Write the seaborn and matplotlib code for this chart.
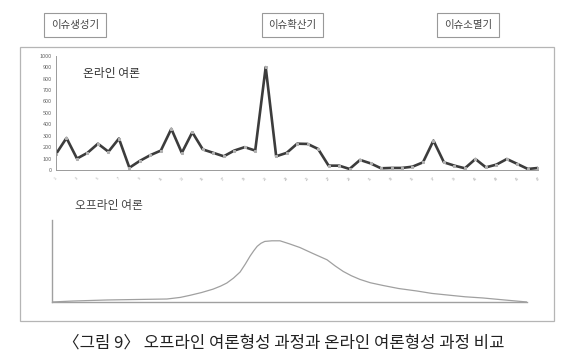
import numpy as np
import matplotlib
matplotlib.use("Agg")
import matplotlib.pyplot as plt
from matplotlib.patches import Rectangle
import seaborn as sns

# --- data ---
# online opinion: daily counts (47 points)
online_values = [140, 280, 100, 150, 230, 160, 275, 20, 80, 130,
                 170, 360, 150, 330, 180, 150, 120, 170, 200, 170,
                 900, 120, 150, 230, 228, 184, 38, 38, 9, 88,
                 58, 15, 18, 18, 29, 67, 257, 67, 38, 15,
                 96, 23, 47, 96, 53, 9, 18]
online_yticks = [0, 100, 200, 300, 400, 500, 600, 700, 800, 900, 1000]

# offline opinion: schematic curve (relative time, relative level)
offline_t = [0, 4.4, 11.6, 24.2, 27.0, 29.1, 31.5, 33.9, 35.5, 36.8, 38.2,
             39.6, 40.7, 41.7, 42.5, 43.2, 44.0, 44.8, 46.3, 48.0, 50.0,
             52.2, 55.0, 57.9, 59.6, 61.3, 63.0, 64.8, 67.0, 69.7, 73.0,
             76.8, 80.0, 83.8, 87.0, 90.7, 95.0, 100]
offline_level = [0, 1.6, 3.3, 4.9, 7.5, 11, 15.5, 21, 26, 31, 39,
                 49, 62, 75, 84, 91, 96, 99, 100, 100, 95,
                 89, 79, 69, 59, 50, 43, 37, 31.5, 27, 22,
                 18, 14, 11, 8.5, 6.6, 3.5, 0]

phase_labels = ["이슈생성기", "이슈확산기", "이슈소멸기"]
online_label = "온라인 여론"
offline_label = "오프라인 여론"
caption = "〈그림 9〉 오프라인 여론형성 과정과 온라인 여론형성 과정 비교"

sns.set_style("white")
plt.rcParams['font.family'] = ['Noto Sans CJK KR', 'DejaVu Sans']

W, H = 567, 363
fig = plt.figure(figsize=(W / 100, H / 100), dpi=100)


def px_axes(x0, y0, x1, y1):
    # axes from pixel box (top-left origin)
    return fig.add_axes([x0 / W, 1 - y1 / H, (x1 - x0) / W, (y1 - y0) / H])


# outer frame around both charts
fig.patches.append(Rectangle((20 / W, 1 - 321 / H), 534 / W, 274 / H,
                             transform=fig.transFigure, fill=False,
                             edgecolor="#b5b5b5", lw=0.9))

# --- online chart ---
ax = px_axes(56, 55.7, 538.3, 170)
idx = np.arange(len(online_values))
sns.lineplot(x=idx, y=online_values, ax=ax, color="#3c3c3c", lw=1.9,
             marker="s", markersize=1.5, markerfacecolor="#b0b0b0",
             markeredgecolor="#b0b0b0")
ax.set_xlim(0, len(online_values) - 1)
ax.set_ylim(0, 1000)
ax.set_yticks(online_yticks)
ax.set_yticklabels([str(v) for v in online_yticks], fontsize=4, color="#666666")
ax.set_xticks(idx[::2])
ax.set_xticklabels([str(i + 1) for i in idx[::2]], fontsize=2.5,
                   color="#999999", rotation=45)
ax.set_xticks(idx, minor=True)
ax.tick_params(axis="both", which="both", length=1.5, width=0.5,
               color="#888888", pad=1.5)
ax.tick_params(axis="x", which="major", pad=3)
for s in ["top", "right"]:
    ax.spines[s].set_visible(False)
for s in ["left", "bottom"]:
    ax.spines[s].set_color("#9a9a9a")
    ax.spines[s].set_linewidth(0.7)
ax.set_xlabel("")
ax.set_ylabel("")
ax.text(0.056, 0.84, online_label, transform=ax.transAxes, fontsize=8.5,
        color="#333333", va="center")

# --- offline chart ---
ax2 = px_axes(52, 220, 527, 302)
sns.lineplot(x=offline_t, y=offline_level, ax=ax2, color="#a0a0a0", lw=0.9)
ax2.set_xlim(0, 100)
ax2.set_ylim(0, 134)
ax2.set_xticks([])
ax2.set_yticks([])
for s in ["top", "right"]:
    ax2.spines[s].set_visible(False)
for s in ["left", "bottom"]:
    ax2.spines[s].set_color("#a0a0a0")
    ax2.spines[s].set_linewidth(1.0)
ax2.set_xlabel("")
ax2.set_ylabel("")
fig.text(75 / W, 1 - 206 / H, offline_label, fontsize=8.5, color="#444444",
         va="center")

# --- phase labels in boxes ---
for lab, cx in zip(phase_labels, [75, 292.5, 468]):
    fig.text(cx / W, 1 - 25 / H, lab, fontsize=7.5, color="#444444",
             ha="center", va="center",
             bbox=dict(boxstyle="square,pad=0.65", fc="white",
                       ec="#999999", lw=0.8))

# --- caption ---
fig.text(284 / W, 1 - 343 / H, caption, fontsize=12, color="#222222",
         ha="center", va="center")

fig.savefig("out.png", dpi=100)
